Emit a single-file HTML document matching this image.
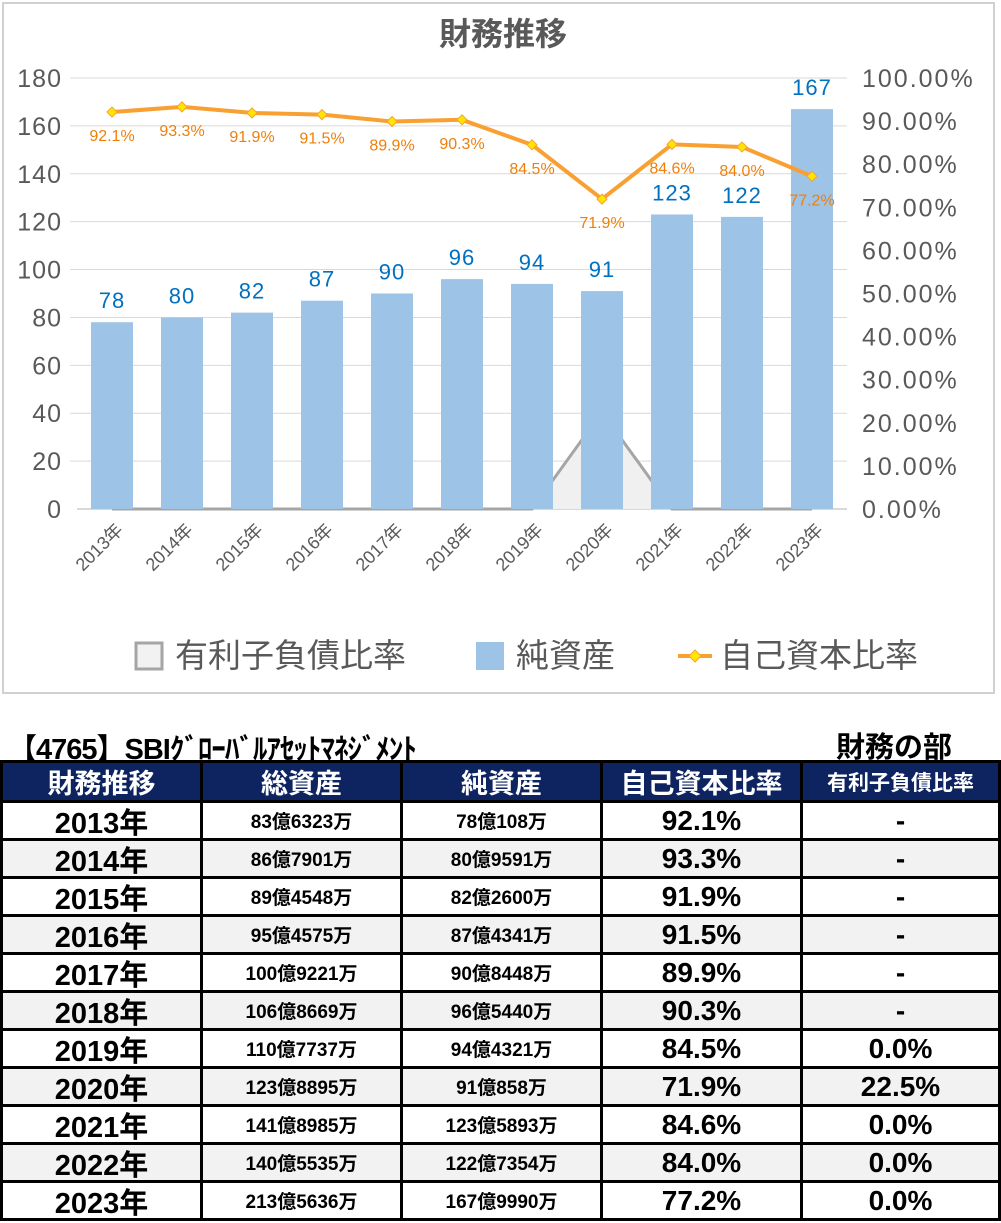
<!DOCTYPE html>
<html><head><meta charset="utf-8">
<style>
body{margin:0;width:1001px;height:1223px;background:#fff;font-family:"Liberation Sans","Noto Sans CJK JP",sans-serif;overflow:hidden;position:relative}
#chartbox{position:absolute;left:2px;top:2px;width:993px;height:692px;border:2px solid #d0d0d0;box-sizing:border-box}
svg text{font-family:"Liberation Sans","Noto Sans CJK JP",sans-serif}
#ttl{position:absolute;left:8px;top:726px;font-size:29px;font-weight:bold;letter-spacing:-1px}
#sub{position:absolute;left:836px;top:724px;font-size:29px;font-weight:bold}
#tbl{position:absolute;left:0;top:760px;width:1001px;height:461px;background:#000}
.c{position:absolute;display:flex;align-items:center;justify-content:center;font-weight:bold;background:#fff;overflow:hidden;white-space:nowrap}
.h{background:#0d2461;color:#fff;font-size:27px}
.g{background:#f2f2f2}
</style></head><body>
<div id="chartbox"></div>
<svg id="chart" width="1001" height="700" style="position:absolute;left:0;top:0">
<text x="503" y="45" text-anchor="middle" font-size="32" font-weight="bold" fill="#595959">財務推移</text>
<g id="grid"></g><g id="area"></g><g id="bars"></g><g id="line"></g><g id="labels"></g><g id="axes"></g>
<g>
<rect x="136" y="643" width="26" height="26" fill="#f2f2f2" stroke="#a5a5a5" stroke-width="3"/>
<text x="175" y="667" font-size="33" fill="#595959">有利子負債比率</text>
<rect x="476" y="642" width="28" height="28" fill="#9dc3e6"/>
<text x="516" y="667" font-size="33" fill="#595959">純資産</text>
<line x1="678" y1="656" x2="712" y2="656" stroke="#f8a031" stroke-width="4"/>
<path d="M695 650 L701 656 L695 662 L689 656Z" fill="#ffe600" stroke="#f8a031"/>
<text x="720" y="667" font-size="33" fill="#595959">自己資本比率</text>
</g>
</svg>
<div id="ttl">【4765】SBIｸﾞﾛｰﾊﾞﾙｱｾｯﾄﾏﾈｼﾞﾒﾝﾄ</div>
<div id="sub">財務の部</div>
<div id="tbl"></div>
<script>
const years=["2013年","2014年","2015年","2016年","2017年","2018年","2019年","2020年","2021年","2022年","2023年"];
const equity=[78,80,82,87,90,96,94,91,123,122,167];
const ratio=[92.1,93.3,91.9,91.5,89.9,90.3,84.5,71.9,84.6,84.0,77.2];
const debt=[0,0,0,0,0,0,0,22.5,0,0,0];
const totalAssets=["83億6323万","86億7901万","89億4548万","95億4575万","100億9221万","106億8669万","110億7737万","123億8895万","141億8985万","140億5535万","213億5636万"];
const netAssets=["78億108万","80億9591万","82億2600万","87億4341万","90億8448万","96億5440万","94億4321万","91億858万","123億5893万","122億7354万","167億9990万"];
const debtText=["-","-","-","-","-","-","0.0%","22.5%","0.0%","0.0%","0.0%"];
const headers=["財務推移","総資産","純資産","自己資本比率","有利子負債比率"];
const leftTicks=[0,20,40,60,80,100,120,140,160,180];
const rightTicks=[0,10,20,30,40,50,60,70,80,90,100];
const NS="http://www.w3.org/2000/svg";
const X0=77,X1=847,Y0=509,Y1=78;
const xc=i=>X0+(X1-X0)/years.length*(i+0.5);
const yL=v=>Y0-(Y0-Y1)*v/180;
const yR=v=>Y0-(Y0-Y1)*v/100;
function mk(t,a,p,txt){const e=document.createElementNS(NS,t);for(const k in a)e.setAttribute(k,a[k]);if(txt!==undefined)e.textContent=txt;document.getElementById(p).appendChild(e);return e;}
leftTicks.forEach(v=>{
 if(v>0){const g=mk('line',{x1:X0-7,x2:X1,y1:yL(v),y2:yL(v),stroke:'#d9d9d9','stroke-width':1},'grid');}
 const t=mk('text',{x:62,y:yL(v)+9,'text-anchor':'end','font-size':25,fill:'#595959','letter-spacing':'1'},'axes',String(v));
 
 
});
rightTicks.forEach(v=>{
 const t=mk('text',{x:862,y:yR(v)+9,'font-size':25,fill:'#595959','letter-spacing':'2'},'axes',v.toFixed(2)+'%');
 
 
});
let ap='M'+xc(0)+' '+yR(debt[0]);debt.forEach((v,i)=>ap+=' L'+xc(i)+' '+yR(v));
const af=mk('path',{d:ap+' L'+xc(debt.length-1)+' '+Y0+' L'+xc(0)+' '+Y0+'Z',fill:'#f0f0f0'},'area');


const al=mk('path',{d:ap,fill:'none',stroke:'#a5a5a5','stroke-width':3},'area');


mk('line',{x1:X0,x2:X1,y1:Y0,y2:Y0,stroke:'#d9d9d9','stroke-width':2},'grid');
equity.forEach((v,i)=>{
 const b=mk('rect',{x:xc(i)-21,y:yL(v),width:42,height:Y0-yL(v),fill:'#9dc3e6'},'bars');
 
 
 const t=mk('text',{x:xc(i),y:yL(v)-14,'text-anchor':'middle','font-size':22,fill:'#0070c0','letter-spacing':'1'},'labels',String(v));
 
 
 const y=mk('text',{transform:`translate(${xc(i)+12},${Y0+22}) rotate(-45)`,'text-anchor':'end','font-size':18,fill:'#595959'},'axes',years[i]);
 
 
});
let lp='';ratio.forEach((v,i)=>lp+=(i?' L':'M')+xc(i)+' '+yR(v));
const ln=mk('path',{d:lp,fill:'none',stroke:'#f8a031','stroke-width':4},'line');


ratio.forEach((v,i)=>{
 const x=xc(i),y=yR(v);
 const m=mk('path',{d:`M${x} ${y-5} L${x+5} ${y} L${x} ${y+5} L${x-5} ${y}Z`,fill:'#ffe600',stroke:'#f8a031'},'line');
 
 
 const t=mk('text',{x:x,y:y+29,'text-anchor':'middle','font-size':16,fill:'#f07f09'},'labels',v.toFixed(1)+'%');
 
 
});
const tbl=document.getElementById('tbl');
const colX=[0,200,400,600,800,1001];
function cell(col,top,h,txt,cls,fs){
 const d=document.createElement('div');
 d.className='c '+cls;
 d.style.left=(colX[col]+3)+'px';d.style.top=top+'px';
 d.style.width=(colX[col+1]-colX[col]-3-(col===4?3:0))+'px';d.style.height=h+'px';
 if(fs)d.style.fontSize=fs+'px';
 d.textContent=txt;
 
 
 tbl.appendChild(d);
}
headers.forEach((h,c)=>cell(c,3,37,h,'h',c===4?21:27));
years.forEach((y,i)=>{
 const top=43+i*38,cls=i%2?'g':'';
 cell(0,top,35,y,cls,29);
 cell(1,top,35,totalAssets[i],cls,19);
 cell(2,top,35,netAssets[i],cls,19);
 cell(3,top,35,ratio[i].toFixed(1)+'%',cls,28);
 cell(4,top,35,debtText[i],cls,28);
});
</script>
</body></html>
